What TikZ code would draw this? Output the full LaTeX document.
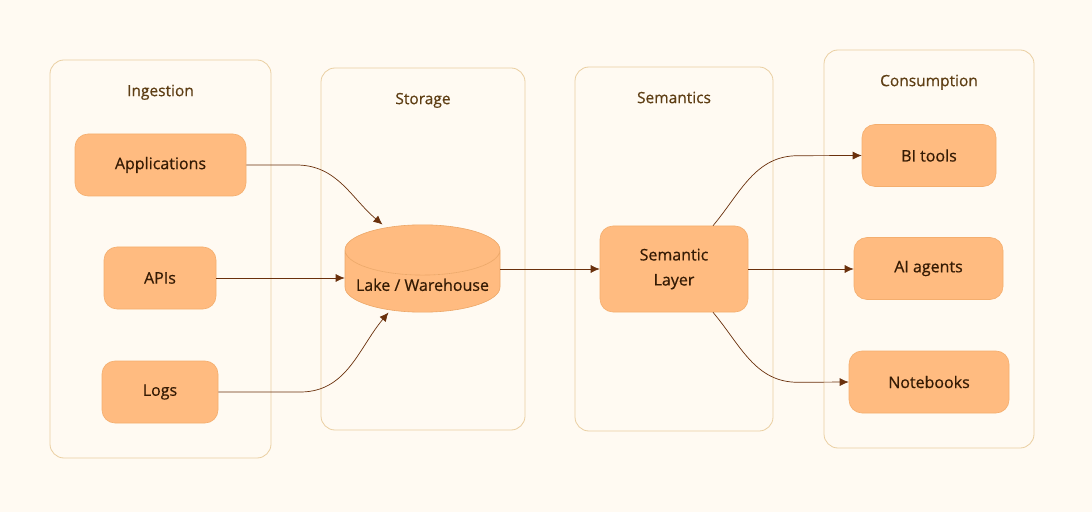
\documentclass[tikz,border=0pt]{standalone}
\usepackage{fontspec}
\setmainfont{Open Sans}[BoldFont={Open Sans}, BoldFeatures={FakeBold=0.6}]
\usetikzlibrary{arrows.meta}
\usetikzlibrary{positioning}
\usetikzlibrary{shapes.geometric}
\definecolor{paper}{HTML}{FFFAF2}
\definecolor{panelline}{HTML}{EACFA2}
\definecolor{titlebrown}{HTML}{5E3E14}
\definecolor{nodefill}{HTML}{FFBB80}
\definecolor{nodeline}{HTML}{F4AE6E}
\definecolor{inkbrown}{HTML}{351B04}
\definecolor{arrowbrown}{HTML}{6A300C}
\tikzset{
	>={Latex[length=9pt,width=8pt]},
	panel/.style={
		rectangle,
		rounded corners=14pt,
		draw=panelline, line width=0.8pt,
		fill=paper},
	paneltitle/.style={
		text=titlebrown,
		text height=11pt, text depth=4pt,
		font=\fontsize{15.5}{18}\selectfont\bfseries},
	stage/.style={
		rectangle,
		rounded corners=13pt,
		fill=nodefill,
		draw=nodeline, line width=0.6pt,
		text=inkbrown,
		minimum height=62pt,
		align=center,
		font=\fontsize{16}{25}\selectfont\bfseries},
	store/.style={
		cylinder,
		shape border rotate=90,
		aspect=0.36,
		cylinder uses custom fill,
		cylinder body fill=nodefill,
		cylinder end fill=nodefill,
		draw=nodeline!85!brown, line width=0.6pt,
		text=inkbrown,
		minimum width=155pt,
		minimum height=85pt,
		font=\fontsize{16}{19}\selectfont\bfseries},
	link/.style={draw=arrowbrown, line width=0.7pt, ->},
}
\begin{document}
\begin{tikzpicture}
	[x=1pt, y=1pt, node distance=22pt]
	\fill[paper] (0,0) rectangle (1092,512);
	\useasboundingbox (0,0) rectangle (1092,512);
	% columns
	\node[panel, minimum width=221pt, minimum height=398pt] (ingest) at (160.5,253) {};
	\node[panel, minimum width=204pt, minimum height=362pt] (storage) at (423,263) {};
	\node[panel, minimum width=198pt, minimum height=364pt] (semantics) at (674,263) {};
	\node[panel, minimum width=210pt, minimum height=398pt] (consume) at (929,263) {};
	\node[paneltitle, below=of ingest.north] (ingesttitle) {Ingestion};
	\node[paneltitle, below=of storage.north] (storagetitle) {Storage};
	\node[paneltitle, below=of semantics.north] (semtitle) {Semantics};
	\node[paneltitle, below=of consume.north] (consumetitle) {Consumption};
	% sources
	\node[stage, minimum width=171pt] (app) at (160.5,347) {Applications};
	\node[stage, minimum width=112pt] (apis) at (160,234) {APIs};
	\node[stage, minimum width=116pt] (logs) at (160,120) {Logs};
	% store and semantic layer
	\node[store, anchor=shape center] (lake) at (422.5,243.5) {Lake / Warehouse};
	\node[stage, minimum width=148pt, minimum height=86pt] (sem) at (674,243) {Semantic\\Layer};
	% consumers
	\node[stage, minimum width=134pt] (bi) at (929,356.5) {BI tools};
	\node[stage, minimum width=149pt] (ai) at (928.5,243.5) {AI agents};
	\node[stage, minimum width=160pt] (nb) at (929,130) {Notebooks};
	
	\draw[link] (app.east) -- ++(50,0) to[out=0,in=140] ([xshift=-40pt]lake.north);
	\draw[link] (apis.east) -- (apis.east -| lake.west);
	\draw[link] (logs.east) -- ++(82,0) to[out=0,in=-130] ([xshift=-34pt]lake.south);
	\draw[link] (lake.east |- sem.west) -- (sem.west);
	\draw[link] ([xshift=39pt]sem.north) to[out=50,in=180] ++(85,70) -- (bi.west);
	\draw[link] (sem.east) -- (sem.east -| ai.west);
	\draw[link] ([xshift=39pt]sem.south) to[out=-50,in=180] ++(85,-70) -- (nb.west);
\end{tikzpicture}
\end{document}
